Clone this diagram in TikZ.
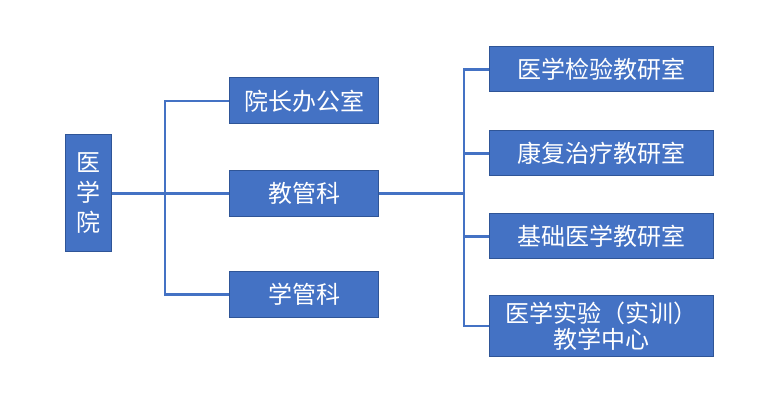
\documentclass[tikz,border=0pt]{standalone}
\usepackage{fontspec}
\usetikzlibrary{backgrounds}
\newfontfamily\cjk{Noto Sans CJK SC}
\definecolor{boxfill}{HTML}{4472C4}
\definecolor{boxline}{HTML}{2F5597}
\definecolor{conn}{HTML}{4472C4}
\begin{document}
\begin{tikzpicture}[x=1pt,y=-1pt,
  orgbox/.style={draw=boxline,line width=1pt,fill=boxfill,text=white,inner sep=0pt,
    font=\cjk\fontsize{24}{27}\selectfont,align=center},
  link/.style={draw=conn,line width=2.8pt}]
\useasboundingbox (0,0) rectangle (782,406);
\node[orgbox,minimum width=46pt,minimum height=117pt,font=\cjk\fontsize{24}{30}\selectfont] (root) at (88.5,193.5) {医\\学\\院};
\node[orgbox,minimum width=149pt,minimum height=46pt] (a1) at (304,101) {院长办公室};
\node[orgbox,minimum width=149pt,minimum height=46pt] (a2) at (304,193.5) {教管科};
\node[orgbox,minimum width=149pt,minimum height=46pt] (a3) at (304,294.5) {学管科};
\node[orgbox,minimum width=224pt,minimum height=45pt] (b1) at (601.5,69.5) {医学检验教研室};
\node[orgbox,minimum width=224pt,minimum height=45pt] (b2) at (601.5,153.5) {康复治疗教研室};
\node[orgbox,minimum width=224pt,minimum height=45pt] (b3) at (601.5,236.5) {基础医学教研室};
\node[orgbox,minimum width=224pt,minimum height=61pt,font=\cjk\fontsize{24}{26}\selectfont] (b4) at (601.5,326) {医学实验（实训）\\教学中心};
\coordinate (j1) at (165,193.5);
\coordinate (j2) at (464,193.5);
\begin{scope}[on background layer]
\draw[link] (root.east) -- (a2.west);
\draw[link] (a1.west) -- (a1.west -| j1) -- (a3.west -| j1) -- (a3.west);
\draw[link] (a2.east) -- (j2);
\draw[link] (b1.west) -- (b1.west -| j2) -- (b4.west -| j2) -- (b4.west);
\draw[link] (b2.west) -- (b2.west -| j2);
\draw[link] (b3.west) -- (b3.west -| j2);
\end{scope}
\end{tikzpicture}
\end{document}
